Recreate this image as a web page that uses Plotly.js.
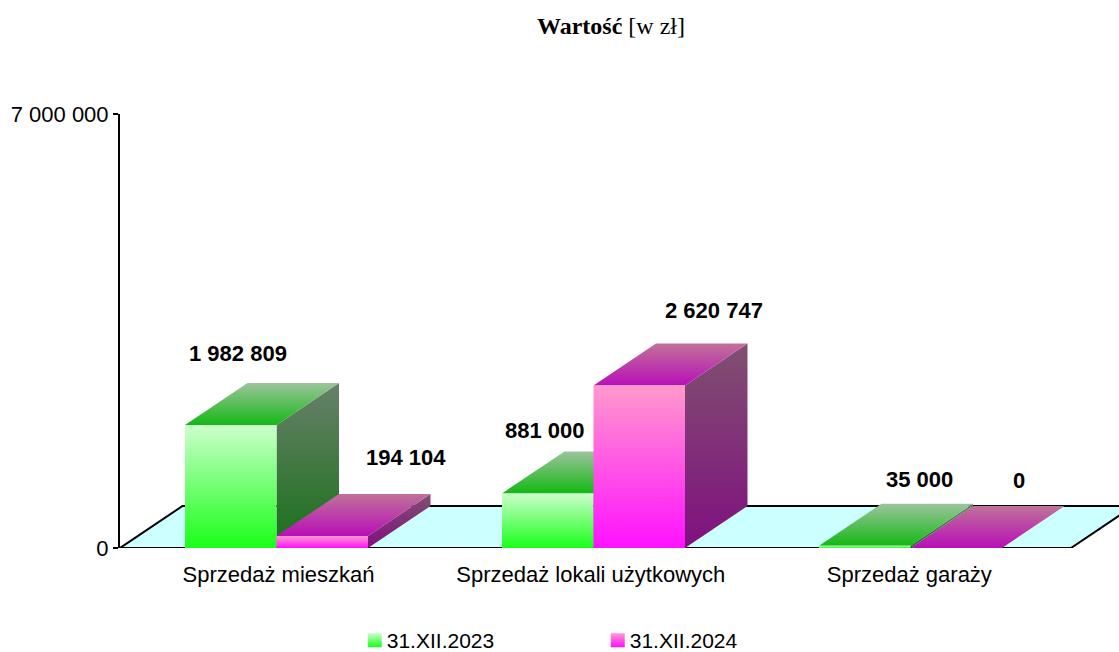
<!DOCTYPE html>
<html><head><meta charset="utf-8">
<script src="https://cdn.plot.ly/plotly-3.0.1.min.js"></script>
<style>html,body{margin:0;padding:0;background:#fff;overflow:hidden}</style>
</head><body><div id="chart" style="width:1119px;height:652px"></div>
<script>
const categories = ["Sprzedaż mieszkań", "Sprzedaż lokali użytkowych", "Sprzedaż garaży"];
const series2023 = [1982809, 881000, 35000];
const series2024 = [194104, 2620747, 0];
const seriesNames = ["31.XII.2023", "31.XII.2024"];
const yTickVals = [0, 7000000];
const yTickText = ["0", "7 000 000"];
const catTickVals = [0.5, 1.485, 2.49];
// label offsets (px) from the top-front-centre of each bar
const labelDx2023 = [7, -3, 55], labelDy2023 = [72, 63, 66];
const labelDx2024 = [84, 75, 63], labelDy2024 = [78, 75, 68];

const pxX = 317, pxY = 434 / 7000000;
const depthX = 62.5 / pxX, depthY = 42 / pxY;
const gap = 65 / pxX, barW = 91.5 / pxX;
const xMax = 999 / pxX;
const font = "Liberation Sans, Arial, sans-serif";

const palette = [
  {front:["#19ff19","#ccffcc"], top:["#14b814","#9cc49c"], side:["#1a701a","#68806a"]},
  {front:["#ff11ff","#ff99cc"], top:["#b80fb8","#c07299"], side:["#801080","#805070"]}
];
function grad(c0, c1, lo, hi){
  return {type:"vertical", colorscale:[[0,c0],[1,c1]], start:lo, stop:hi};
}
function poly(xs, ys, colors){
  const lo = Math.min(...ys), hi = Math.max(...ys);
  return {x:xs, y:ys, type:"scatter", mode:"lines", fill:"toself", line:{width:0},
    fillgradient:grad(colors[0], colors[1], lo, hi), hoverinfo:"skip", showlegend:false};
}
const traces = [{
  x:[0,3,3+depthX,depthX,0], y:[0,0,depthY,depthY,0], type:"scatter", mode:"lines", fill:"toself",
  fillcolor:"#ccffff", line:{color:"#000",width:2}, hoverinfo:"skip", showlegend:false
}];
const annotations = [];
function addBar(i, s, v, dx, dy){
  const x0 = i + gap + s*barW, x1 = x0 + barW, p = palette[s];
  traces.push(poly([x1,x1+depthX,x1+depthX,x1,x1],[0,depthY,v+depthY,v,0],p.side));
  traces.push(poly([x0,x1,x1+depthX,x0+depthX,x0],[v,v,v+depthY,v+depthY,v],p.top));
  if (v > 0) traces.push(poly([x0,x1,x1,x0,x0],[0,0,v,v,0],p.front));
  annotations.push({x:(x0+x1)/2, y:v, xref:"x", yref:"y", showarrow:false,
    text:"<b>"+String(v).replace(/\B(?=(\d{3})+$)/g," ")+"</b>",
    xshift:dx, yshift:dy, font:{family:font,size:22,color:"#000"}});
}
categories.forEach((c,i)=>{
  addBar(i,0,series2023[i],labelDx2023[i],labelDy2023[i]);
  addBar(i,1,series2024[i],labelDx2024[i],labelDy2024[i]);
});
seriesNames.forEach((n,s)=>{
  const p = palette[s];
  traces.push({x:[null], y:[null], type:"scatter", mode:"markers", name:n, hoverinfo:"skip",
    marker:{symbol:"square", size:14, color:p.front[1], line:{width:0},
      gradient:{type:"vertical", color:p.front[0]}}});
});
const layout = {
  width:1119, height:652, margin:{l:120,r:0,t:114,b:104}, paper_bgcolor:"#fff", plot_bgcolor:"rgba(0,0,0,0)",
  title:{text:"<b>Wartość</b> [w zł]", font:{family:"Liberation Serif, Times New Roman, serif",size:24,color:"#000"},
    x:611/1119, xanchor:"center", y:1-26/652, yanchor:"middle"},
  xaxis:{range:[0,xMax], showgrid:false, zeroline:false, showline:false, ticks:"", ticklabelstandoff:11,
    tickmode:"array", tickvals:catTickVals, ticktext:categories,
    tickfont:{family:font,size:22,color:"#000"}, fixedrange:true},
  yaxis:{range:[0,7000000], showgrid:false, zeroline:false, showline:true, linecolor:"#000", linewidth:2,
    ticks:"outside", ticklen:5, tickwidth:2, tickcolor:"#000",
    tickmode:"array", tickvals:yTickVals, ticktext:yTickText,
    tickfont:{family:font,size:22,color:"#000"}, fixedrange:true},
  legend:{orientation:"h", x:254/1119, xref:"paper", xanchor:"left", yref:"container", y:0.0, yanchor:"bottom",
    font:{family:font,size:21,color:"#000"}, entrywidth:198, entrywidthmode:"pixels", itemclick:false, itemdoubleclick:false},
  annotations:annotations, showlegend:true, hovermode:false
};
Plotly.newPlot("chart", traces, layout, {displayModeBar:false, staticPlot:true}).then(gd=>{
  // the reference legend sits lower and keeps its swatches closer to the text
  const lg = gd.querySelector(".legend");
  const m = /translate\(([-\d.]+)[ ,]+([-\d.]+)\)/.exec(lg.getAttribute("transform"));
  lg.setAttribute("transform", "translate("+m[1]+","+(parseFloat(m[2])+9)+")");
  gd.querySelectorAll(".legend .legendsymbols").forEach(s=>s.setAttribute("transform","translate(8,0)"));
});
</script></body></html>
